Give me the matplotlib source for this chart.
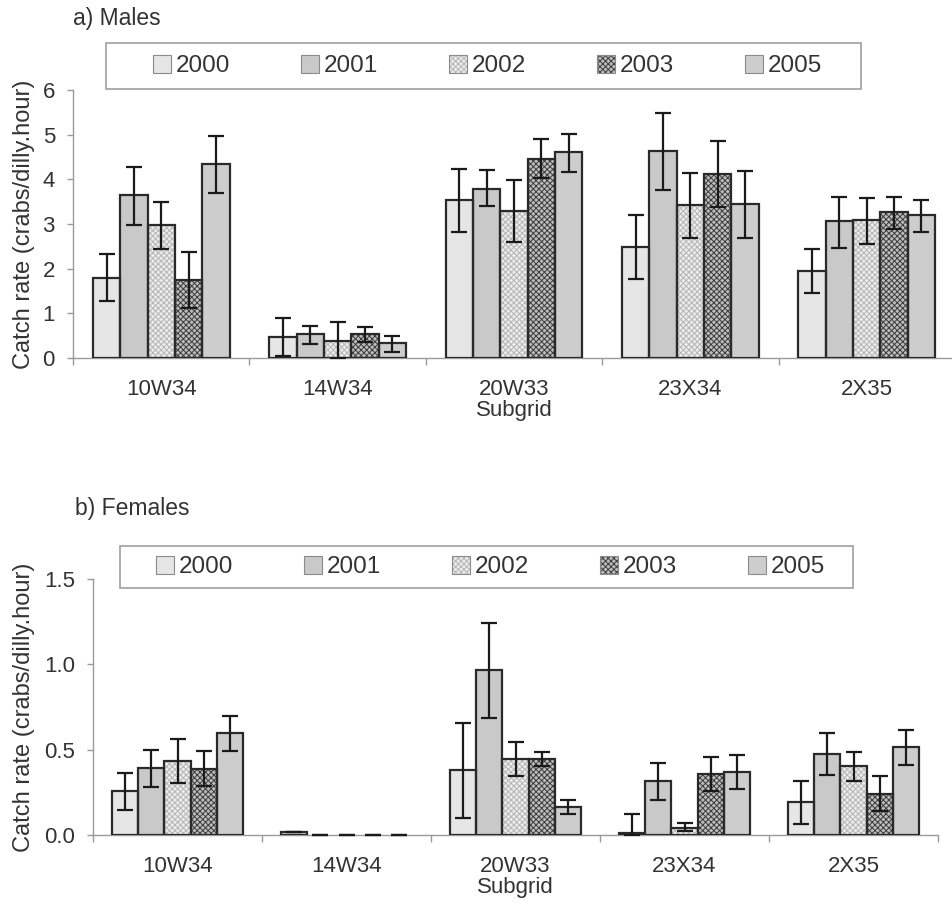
import matplotlib
matplotlib.use("Agg")
import matplotlib.pyplot as plt
from matplotlib.patches import Rectangle
from matplotlib.ticker import FixedLocator, NullFormatter, FixedFormatter
import numpy as np

plt.rcParams['font.family'] = ['Liberation Sans', 'DejaVu Sans']
plt.rcParams['hatch.linewidth'] = 0.7

subgrids = ["10W34", "14W34", "20W33", "23X34", "2X35"]
years = ["2000", "2001", "2002", "2003", "2005"]

# Males: rows = years, cols = subgrids
males_mean = [
    [1.79, 0.48, 3.54, 2.49, 1.94],
    [3.64, 0.54, 3.79, 4.63, 3.06],
    [2.98, 0.39, 3.30, 3.43, 3.08],
    [1.75, 0.54, 4.46, 4.12, 3.26],
    [4.34, 0.33, 4.61, 3.44, 3.20],
]
males_lo = [
    [1.27, 0.05, 2.82, 1.76, 1.45],
    [2.97, 0.31, 3.40, 3.76, 2.47],
    [2.44, 0.00, 2.59, 2.69, 2.56],
    [1.11, 0.36, 4.03, 3.38, 2.89],
    [3.70, 0.14, 4.16, 2.68, 2.82],
]
males_hi = [
    [2.32, 0.90, 4.23, 3.20, 2.45],
    [4.27, 0.72, 4.20, 5.48, 3.61],
    [3.49, 0.81, 3.99, 4.15, 3.59],
    [2.38, 0.70, 4.90, 4.86, 3.61],
    [4.97, 0.49, 5.01, 4.18, 3.54],
]

# Females
females_mean = [
    [0.258, 0.015, 0.379, 0.012, 0.191],
    [0.390, 0.000, 0.969, 0.316, 0.473],
    [0.434, 0.000, 0.443, 0.043, 0.404],
    [0.387, 0.000, 0.443, 0.359, 0.242],
    [0.598, 0.000, 0.166, 0.371, 0.516],
]
females_lo = [
    [0.148, 0.015, 0.100, 0.000, 0.066],
    [0.279, 0.000, 0.688, 0.203, 0.350],
    [0.303, 0.000, 0.348, 0.023, 0.318],
    [0.285, 0.000, 0.404, 0.258, 0.141],
    [0.490, 0.000, 0.121, 0.270, 0.410],
]
females_hi = [
    [0.363, 0.015, 0.654, 0.121, 0.316],
    [0.498, 0.000, 1.244, 0.424, 0.598],
    [0.560, 0.000, 0.543, 0.068, 0.486],
    [0.492, 0.000, 0.484, 0.457, 0.344],
    [0.695, 0.000, 0.207, 0.469, 0.613],
]

# styles per year: facecolor, hatch, hatch colour
styles = [
    ("#e6e6e6", None, None),
    ("#c9c9c9", None, None),
    ("#ececec", "xxxxxx", "#b5b5b5"),
    ("#bdbdbd", "xxxxxx", "#3c3c3c"),
    ("#cdcdcd", None, None),
]
edge_dark = "#2a2a2a"
spine_col = "#9a9a9a"
text_col = "#333333"

W, H = 952, 916
fig = plt.figure(figsize=(W / 100, H / 100), dpi=100)


def fx(px):
    return px / W


def fy(py):
    return 1 - py / H


def draw_panel(ax, mean, lo, hi, ymax, yticks, yticklabels):
    n = len(subgrids)
    x = np.arange(n)
    bw = 0.155
    handles = []
    for j, yr in enumerate(years):
        fc, hatch, hc = styles[j]
        pos = x + (j - 2) * bw
        vals = np.array(mean[j])
        nz = vals > 0
        if hatch:
            ax.bar(pos[nz], vals[nz], bw, color=fc, hatch=hatch, edgecolor=hc,
                   linewidth=0, zorder=2)
        else:
            ax.bar(pos[nz], vals[nz], bw, color=fc, linewidth=0, zorder=2)
        ax.bar(pos[nz], vals[nz], bw, fill=False, edgecolor=edge_dark,
               linewidth=1.6, zorder=3)
        l = np.array(lo[j])
        h = np.array(hi[j])
        ax.errorbar(pos, vals, yerr=[vals - l, h - vals],
                    fmt='none', ecolor='#1a1a1a', elinewidth=1.6,
                    capsize=5.5, capthick=1.6, zorder=4, clip_on=False)
        if hatch:
            p1 = Rectangle((0, 0), 1, 1, facecolor=fc, hatch=hatch,
                           edgecolor=hc, linewidth=0)
        else:
            p1 = Rectangle((0, 0), 1, 1, facecolor=fc, linewidth=0)
        p2 = Rectangle((0, 0), 1, 1, fill=False, edgecolor="#8a8a8a",
                       linewidth=0.8)
        handles.append((p1, p2))

    ax.set_xlim(-0.5, n - 0.5)
    ax.set_ylim(0, ymax)
    for s in ("top", "right"):
        ax.spines[s].set_visible(False)
    for s in ("left", "bottom"):
        ax.spines[s].set_color(spine_col)
        ax.spines[s].set_linewidth(1.0)
    ax.xaxis.set_major_locator(FixedLocator(np.arange(n + 1) - 0.5))
    ax.xaxis.set_major_formatter(NullFormatter())
    ax.xaxis.set_minor_locator(FixedLocator(x))
    ax.xaxis.set_minor_formatter(FixedFormatter(subgrids))
    ax.tick_params(axis='x', which='major', direction='out', length=5,
                   color=spine_col, width=1.0)
    ax.tick_params(axis='x', which='minor', length=0, pad=15,
                   labelsize=16, labelcolor=text_col)
    ax.set_yticks(yticks)
    ax.set_yticklabels(yticklabels)
    ax.tick_params(axis='y', direction='out', length=4, color=spine_col,
                   width=1.0, pad=9, labelsize=16, labelcolor=text_col)
    ax.set_xlabel("Subgrid", fontsize=16, color=text_col, labelpad=0)
    ax.set_ylabel("Catch rate (crabs/dilly.hour)", fontsize=17,
                  color=text_col)
    return handles


# Top panel
axL, axR, axT, axB = 73, 955, 90, 358
ax1 = fig.add_axes([fx(axL), fy(axB), fx(axR) - fx(axL), fy(axT) - fy(axB)])
ax1.patch.set_alpha(0)
h1 = draw_panel(ax1, males_mean, males_lo, males_hi, 6,
                [0, 1, 2, 3, 4, 5, 6], ["0", "1", "2", "3", "4", "5", "6"])
ax1.yaxis.set_label_coords(-(axL - 35) / (axR - axL), 0.5)

# Bottom panel
bL, bR, bT, bB = 93, 938, 579, 835
ax2 = fig.add_axes([fx(bL), fy(bB), fx(bR) - fx(bL), fy(bT) - fy(bB)])
ax2.patch.set_alpha(0)
h2 = draw_panel(ax2, females_mean, females_lo, females_hi, 1.5,
                [0, 0.5, 1.0, 1.5], ["0.0", "0.5", "1.0", "1.5"])
ax2.yaxis.set_label_coords(-(bL - 35) / (bR - bL), 0.5)

# Titles
fig.text(fx(73), fy(19), "a) Males", fontsize=16.5, color=text_col,
         ha='left', va='center')
fig.text(fx(75), fy(508), "b) Females", fontsize=16.5, color=text_col,
         ha='left', va='center')


def add_legend(handles, x0, x1, y0, y1):
    fig.patches.append(Rectangle((fx(x0), fy(y1)), fx(x1) - fx(x0),
                                 fy(y0) - fy(y1), transform=fig.transFigure,
                                 fill=True, facecolor='white',
                                 edgecolor='#a0a0a0', linewidth=1.2,
                                 zorder=5))
    leg = fig.legend(handles, years, loc='center',
                     bbox_to_anchor=(fx((x0 + x1) / 2 + 4), fy((y0 + y1) / 2)),
                     ncol=5, frameon=False, fontsize=17.5,
                     handlelength=0.76, handleheight=0.76,
                     handletextpad=0.2, columnspacing=2.9,
                     borderpad=0, labelcolor=text_col)
    leg.set_zorder(6)


add_legend(h1, 106, 861, 43, 89)
add_legend(h2, 120, 853, 546, 588)

fig.savefig("out.png", dpi=100)
